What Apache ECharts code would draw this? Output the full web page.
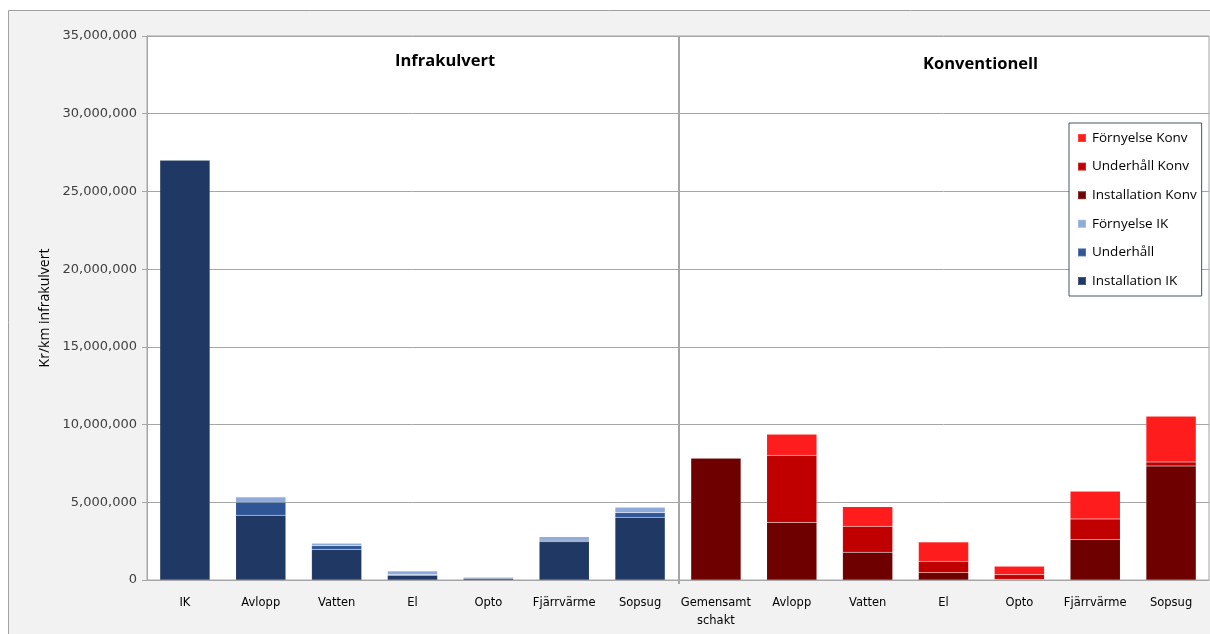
<!DOCTYPE html>
<html>
<head>
<meta charset="utf-8">
<title>Kostnad per km infrakulvert</title>
<script src="https://cdn.jsdelivr.net/npm/echarts@6/dist/echarts.min.js"></script>
<style>
  html, body { margin: 0; padding: 0; background: #ffffff; }
  #chart { width: 1210px; height: 634px; }
</style>
</head>
<body>
<div id="chart"></div>
<script>
// Categories: first seven belong to the infrakulvert solution, last seven to the conventional one
const categories = ['IK', 'Avlopp', 'Vatten', 'El', 'Opto', 'Fjärrvärme', 'Sopsug',
                    'Gemensamt\nschakt', 'Avlopp', 'Vatten', 'El', 'Opto', 'Fjärrvärme', 'Sopsug'];

// Cost components, kr per km (stacked bottom to top)
const installationIK   = [27000000, 4170000, 1970000, 300000, 100000, 2460000, 4040000, null, null, null, null, null, null, null];
const underhallIK      = [null, 830000, 230000, 30000, 60000, 100000, 280000, null, null, null, null, null, null, null];
const fornyelseIK      = [null, 340000, 170000, 250000, 30000, 220000, 360000, null, null, null, null, null, null, null];
const installationKonv = [null, null, null, null, null, null, null, 7840000, 3700000, 1790000, 470000, 50000, 2590000, 7330000];
const underhallKonv    = [null, null, null, null, null, null, null, null, 4330000, 1670000, 730000, 290000, 1340000, 260000];
const fornyelseKonv    = [null, null, null, null, null, null, null, null, 1350000, 1260000, 1240000, 540000, 1780000, 2940000];

const yTicks = { min: 0, max: 35000000, interval: 5000000 };
const groupTitles = ['Infrakulvert', 'Konventionell'];
const yAxisTitle = 'Kr/km infrakulvert';

const seriesDefs = [
  { name: 'Installation IK',   data: installationIK,   color: '#1f3864' },
  { name: 'Underhåll',         data: underhallIK,      color: '#2f5597' },
  { name: 'Förnyelse IK',      data: fornyelseIK,      color: '#8eaadb' },
  { name: 'Installation Konv', data: installationKonv, color: '#6e0000' },
  { name: 'Underhåll Konv',    data: underhallKonv,    color: '#c00000' },
  { name: 'Förnyelse Konv',    data: fornyelseKonv,    color: '#ff1c1c' }
];

const chart = echarts.init(document.getElementById('chart'), null, { renderer: 'canvas' });

const labelFont = 'DejaVu Sans';
const textFont = '"Open Sans", "Noto Sans", sans-serif';
const gridColor = '#a6a6a6';
const groupSplitIndex = 7; // first category of the conventional group

const frame = {
  type: 'rect',
  left: 8, top: 10, z: -10,
  shape: { width: 1230, height: 650 },
  style: { fill: '#f2f2f2', stroke: '#a0a0a0', lineWidth: 1 },
  silent: true
};

chart.setOption({
  backgroundColor: 'transparent',
  animation: false,
  graphic: [frame],
  title: [
    { text: groupTitles[0], left: 390, top: 48,
      textStyle: { fontFamily: textFont, fontSize: 16.5, fontWeight: 'bold', color: '#000' } },
    { text: groupTitles[1], left: 918, top: 51,
      textStyle: { fontFamily: textFont, fontSize: 16.5, fontWeight: 'bold', color: '#000' } }
  ],
  legend: {
    orient: 'vertical',
    left: 1069, top: 123,
    data: seriesDefs.map(s => s.name).reverse(),
    itemWidth: 8, itemHeight: 8, itemGap: 14.6,
    padding: [8, 5, 8, 8],
    backgroundColor: '#ffffff',
    borderColor: '#44546a', borderWidth: 1,
    icon: 'rect',
    textStyle: { fontFamily: textFont, fontSize: 13.5, color: '#000', lineHeight: 14, padding: [0, 0, 0, 1] }
  },
  grid: {
    left: 147, right: 1, top: 36, bottom: 54,
    show: true, backgroundColor: '#ffffff', borderColor: gridColor, borderWidth: 1
  },
  xAxis: {
    type: 'category',
    data: categories,
    axisLine: { lineStyle: { color: gridColor } },
    axisTick: { show: false },
    axisLabel: {
      interval: 0, margin: 14, color: '#000',
      fontFamily: labelFont, fontSize: 11.5, lineHeight: 18
    }
  },
  yAxis: {
    type: 'value',
    min: yTicks.min, max: yTicks.max, interval: yTicks.interval,
    name: yAxisTitle,
    nameLocation: 'middle', nameGap: 91, nameRotate: 90,
    nameTextStyle: { fontFamily: textFont, fontSize: 14, color: '#000' },
    axisLine: { show: true, lineStyle: { color: gridColor } },
    axisTick: { show: true, length: 5, lineStyle: { color: gridColor } },
    splitLine: { lineStyle: { color: gridColor } },
    axisLabel: {
      margin: 10, color: '#404040', fontFamily: labelFont, fontSize: 13,
      formatter: (v) => v.toLocaleString('en-US')
    }
  },
  series: seriesDefs.map(s => ({
    name: s.name,
    type: 'bar',
    stack: 'total',
    barWidth: '66%',
    data: s.data,
    itemStyle: { color: s.color, borderColor: 'rgba(255,255,255,0.18)', borderWidth: 0.5 }
  }))
});

// Vertical divider between the two groups, placed on the category boundary
function drawDivider() {
  const xLeft = chart.convertToPixel({ xAxisIndex: 0 }, groupSplitIndex - 1);
  const xRight = chart.convertToPixel({ xAxisIndex: 0 }, groupSplitIndex);
  const x = Math.round((xLeft + xRight) / 2) + 1;
  const yTop = chart.convertToPixel({ yAxisIndex: 0 }, yTicks.max);
  const yBottom = chart.convertToPixel({ yAxisIndex: 0 }, yTicks.min);
  chart.setOption({
    graphic: [frame, {
      type: 'line', z: 5, silent: true,
      shape: { x1: x, y1: yTop, x2: x, y2: yBottom + 4 },
      style: { stroke: gridColor, lineWidth: 2 }
    }]
  }, { replaceMerge: ['graphic'] });
}
drawDivider();
</script>
</body>
</html>
